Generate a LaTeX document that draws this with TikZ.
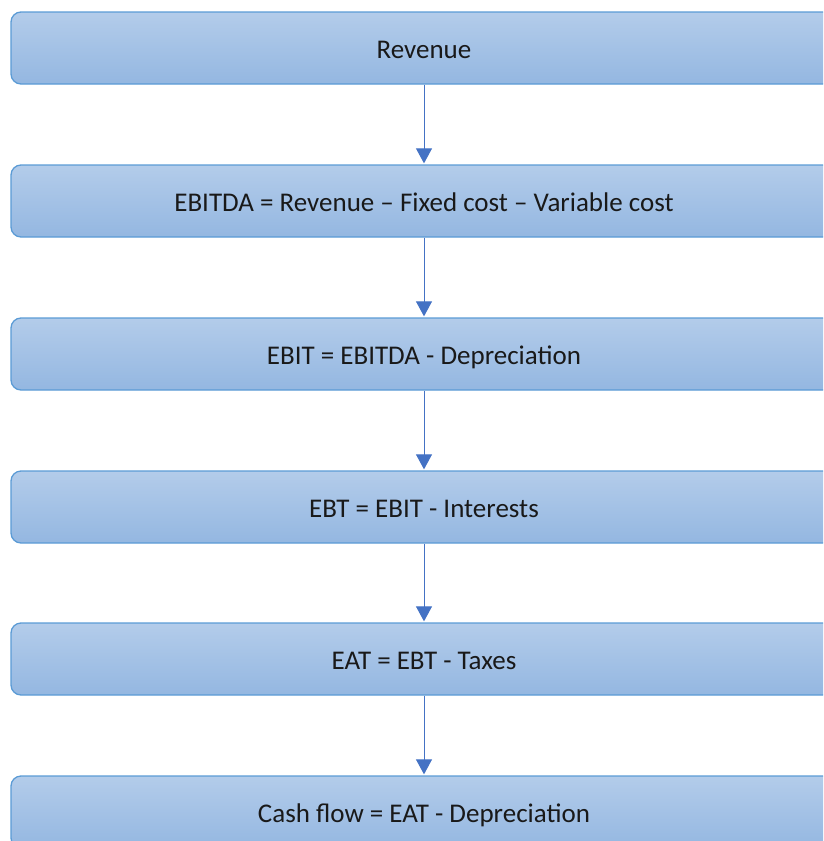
\documentclass[tikz,border=0pt]{standalone}
\usepackage{fontspec}
\setmainfont{Carlito}
\usetikzlibrary{arrows.meta}
\definecolor{boxline}{HTML}{5B9BD5}
\definecolor{boxtop}{HTML}{B3CCEA}
\definecolor{boxbottom}{HTML}{94B7E1}
\definecolor{arrowcol}{HTML}{4472C4}
\newcommand{\stagetext}[1]{\raisebox{-10pt}[0pt][0pt]{#1}\hspace{5pt}}
\tikzset{
  x=1pt, y=-1pt,
  stage/.style={draw=boxline, line width=1.3pt, rounded corners=10pt,
    top color=boxtop, bottom color=boxbottom,
    minimum width=826pt, minimum height=72pt, inner sep=0pt,
    font=\fontsize{27}{32}\selectfont, text=black!90},
  flow/.style={draw=arrowcol, line width=1pt,
    -{Triangle[length=15pt,width=16pt]}, shorten >=1pt}
}
\begin{document}
\begin{tikzpicture}
\useasboundingbox (0,0) rectangle (823,841);
\clip (0,0) rectangle (823,841);
\node[stage] (rev)    at (424,48)  {\stagetext{Revenue}};
\node[stage] (ebitda) at (424,201) {\stagetext{EBITDA = Revenue -- Fixed cost -- Variable cost}};
\node[stage] (ebit)   at (424,354) {\stagetext{EBIT = EBITDA - Depreciation}};
\node[stage] (ebt)    at (424,507) {\stagetext{EBT = EBIT - Interests}};
\node[stage] (eat)    at (424,659) {\stagetext{EAT = EBT - Taxes}};
\node[stage] (cash)   at (424,812) {\stagetext{Cash flow = EAT - Depreciation}};
\draw[flow] (rev.south)    -- (ebitda.north);
\draw[flow] (ebitda.south) -- (ebit.north);
\draw[flow] (ebit.south)   -- (ebt.north);
\draw[flow] (ebt.south)    -- (eat.north);
\draw[flow] (eat.south)    -- (cash.north);
\end{tikzpicture}
\end{document}
